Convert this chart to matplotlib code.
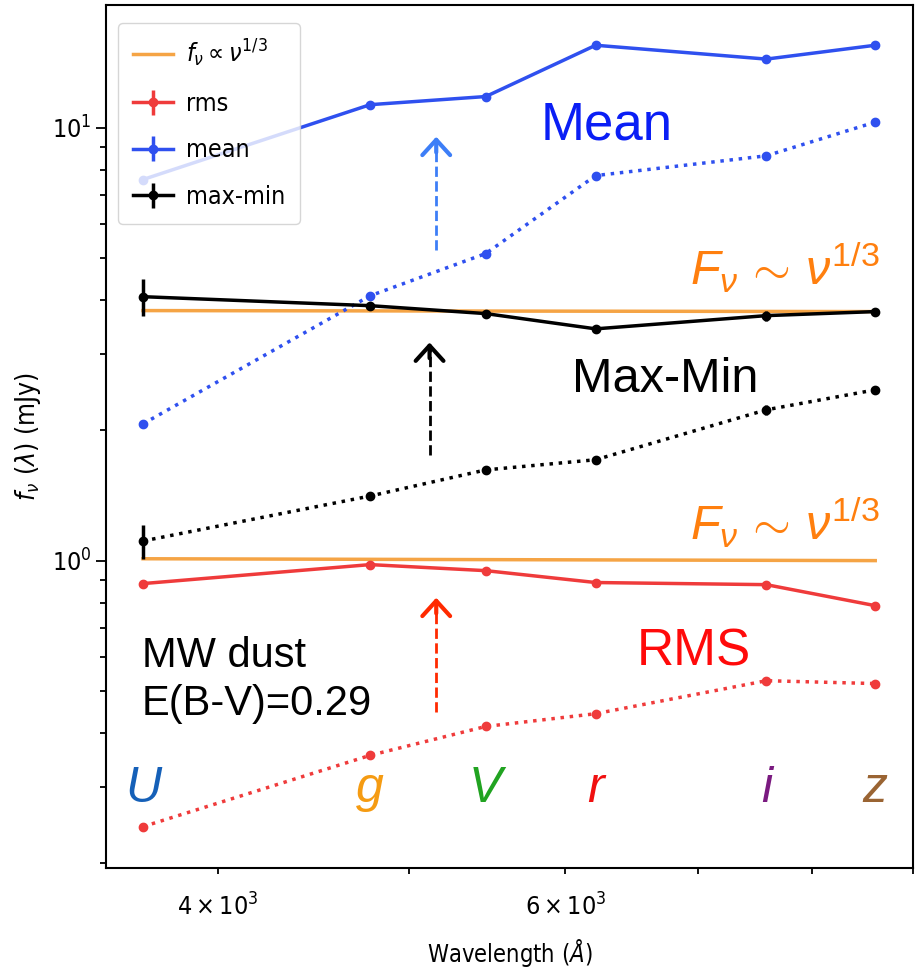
import matplotlib
matplotlib.use('Agg')
import matplotlib.pyplot as plt

plt.rcParams['font.family'] = ['DejaVu Sans']
plt.rcParams['font.stretch'] = 'condensed'
plt.rcParams['mathtext.fontset'] = 'dejavusans'
# custom math set only used for the big annotation labels
plt.rcParams['mathtext.rm'] = 'Liberation Sans'
plt.rcParams['mathtext.it'] = 'Liberation Sans:italic'

# filters and effective wavelengths (Angstrom)
bands = ['U', 'g', 'V', 'r', 'i', 'z']
band_colors = ['#1560b8', '#f59b12', '#21a321', '#f01010', '#7a1a80', '#9a6433']
wave = [3665, 4777, 5467, 6215, 7584, 8612]

# observed (dotted) and MW-dust corrected (solid) values, mJy
rms_obs = [0.243, 0.355, 0.414, 0.443, 0.528, 0.520]
rms_obs_err = [0.005, 0.004, 0.004, 0.004, 0.006, 0.005]
rms_cor = [0.885, 0.979, 0.948, 0.890, 0.880, 0.787]
rms_cor_err = [0.015, 0.010, 0.010, 0.008, 0.010, 0.008]

mean_obs = [2.07, 4.09, 5.12, 7.75, 8.61, 10.3]
mean_obs_err = [0.03, 0.03, 0.03, 0.04, 0.05, 0.05]
mean_cor = [7.59, 11.3, 11.8, 15.5, 14.4, 15.5]
mean_cor_err = [0.10, 0.08, 0.08, 0.10, 0.10, 0.10]

maxmin_obs = [1.11, 1.41, 1.62, 1.71, 2.23, 2.48]
maxmin_obs_err = [0.10, 0.02, 0.02, 0.02, 0.06, 0.03]
maxmin_cor = [4.07, 3.88, 3.72, 3.43, 3.68, 3.76]
maxmin_cor_err = [0.40, 0.05, 0.04, 0.04, 0.10, 0.05]

# f_nu ~ nu^(1/3) reference levels
pl_wave = [3665, 8612]
pl_hi = [3.78, 3.76]
pl_lo = [1.01, 1.00]

# dereddening arrows: x, tail, tip
arrow_x = [5160, 5120, 5160]
arrow_tail = [5.23, 1.75, 0.448]
arrow_tip = [9.53, 3.19, 0.821]
arrow_colors = ['#3d7ef7', 'black', '#ff2a00']

orange = '#f5a445'
red = '#ef3b3b'
blue = '#2f50ef'

fig = plt.figure(figsize=(9.21, 9.73), dpi=100)
ax = fig.add_axes([106/921, 1 - 868/973, 807/921, 863/973])
ax.set_xscale('log')
ax.set_yscale('log')

ax.plot(pl_wave, pl_hi, color=orange, lw=2.5, label=r'$f_\nu \propto \nu^{1/3}$')
ax.plot(pl_wave, pl_lo, color=orange, lw=2.5)

kw = dict(lw=2.5, marker='o', ms=6, elinewidth=2.5)
ax.errorbar(wave, rms_cor, yerr=rms_cor_err, color=red, label='rms', **kw)
ax.errorbar(wave, rms_obs, yerr=rms_obs_err, color=red, ls=':', **kw)
ax.errorbar(wave, mean_cor, yerr=mean_cor_err, color=blue, label='mean', **kw)
ax.errorbar(wave, mean_obs, yerr=mean_obs_err, color=blue, ls=':', **kw)
ax.errorbar(wave, maxmin_cor, yerr=maxmin_cor_err, color='black', label='max-min', **kw)
ax.errorbar(wave, maxmin_obs, yerr=maxmin_obs_err, color='black', ls=':', **kw)

for x, t0, t1, c in zip(arrow_x, arrow_tail, arrow_tip, arrow_colors):
    ax.plot([x, x], [t0, t1 * 0.97], ls='--', lw=2, color=c)
    ax.annotate('', xy=(x, t1), xytext=(x, t1 * 0.92),
                arrowprops=dict(arrowstyle='->,head_length=0.55,head_width=0.5',
                                color=c, lw=3, mutation_scale=20,
                                shrinkA=0, shrinkB=0))

ax.set_xlim(3510, 9000)
ax.set_ylim(0.195, 19.2)

# big annotation labels
tf = dict(family='Liberation Sans', stretch='normal', transform=ax.transAxes,
          va='baseline', ha='left')
ax.text(0.538, 0.8436, 'Mean', color='#0a1ef5', fontsize=38, **tf)
ax.text(0.5775, 0.5516, 'Max-Min', color='black', fontsize=35, **tf)
ax.text(0.658, 0.2352, 'RMS', color='#ff0a0a', fontsize=37, **tf)
ax.text(0.0446, 0.2329, 'MW dust', color='black', fontsize=30, **tf)
ax.text(0.0446, 0.1773, 'E(B-V)=0.29', color='black', fontsize=30, **tf)
pl_text = r'$F_\nu\,\sim\,\nu^{\mathit{1/3}}$'
ax.text(0.7237, 0.6756, pl_text, color='#ff7f0e', fontsize=35,
        math_fontfamily='custom', **tf)
ax.text(0.7237, 0.3801, pl_text, color='#ff7f0e', fontsize=35,
        math_fontfamily='custom', **tf)

for b, x, c in zip(bands, wave, band_colors):
    ax.text(x, 0.0765, b, color=c, fontsize=36, style='italic',
            family='Liberation Sans', stretch='normal', ha='center',
            va='baseline', transform=ax.get_xaxis_transform())

ax.set_xlabel(r'Wavelength ($\AA$)', fontsize=17, labelpad=12)
ax.set_ylabel(r'$f_\nu\ (\lambda)$ (mJy)', fontsize=19, labelpad=6)
ax.tick_params(which='both', labelsize=18, width=1.3)
ax.tick_params(axis='x', which='both', pad=14)
ax.tick_params(which='major', length=7)
ax.tick_params(which='minor', length=4)
for s in ax.spines.values():
    s.set_linewidth(1.5)

ax.legend(loc='upper left', bbox_to_anchor=(12/807, 1 - 18/863), borderaxespad=0,
          fontsize=18, labelspacing=0.9, handlelength=1.6, handletextpad=0.5,
          borderpad=0.6, framealpha=0.8)

fig.savefig('out.png', dpi=100)
